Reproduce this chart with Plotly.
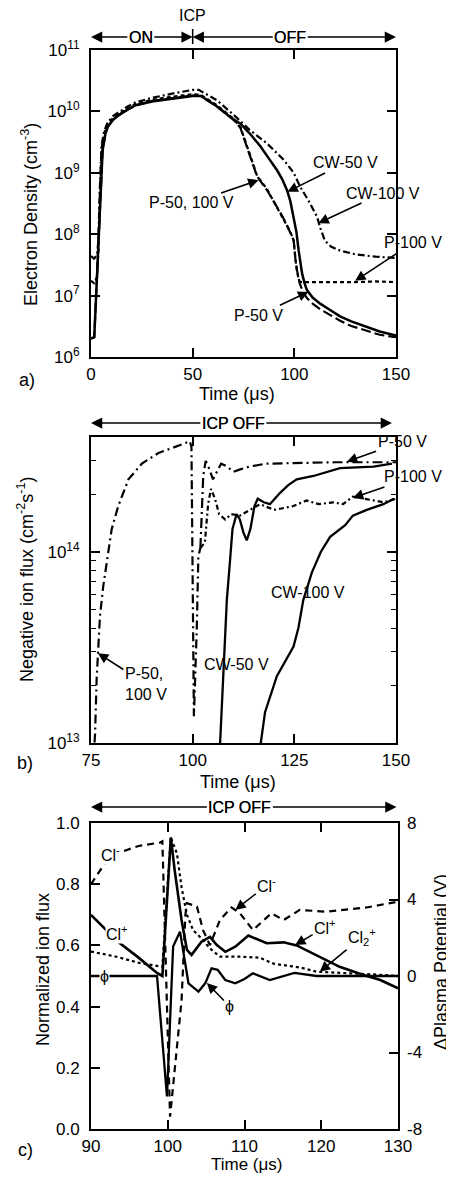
import plotly.graph_objects as go

# ---------------- a) electron density (cm^-3) vs time (us) ----------------
t_a_cw50 = [0, 1.6, 3.2, 4.9, 5.7, 7, 8.2, 11, 13.7, 18, 22, 30, 38, 45, 50, 54, 62, 70, 73.5, 78,
            83.3, 87, 91.5, 94, 96.4, 98, 99.7, 101, 102.1, 103, 103.8, 105, 106.2, 109, 112.7, 117,
            122.5, 128, 135.6, 142, 150]
n_a_cw50 = [2.0e6, 2.1e6, 3.2e7, 5.2e8, 2.3e9, 4.2e9, 5.6e9, 7.4e9, 8.7e9, 1.07e10, 1.26e10, 1.45e10,
            1.58e10, 1.7e10, 1.78e10, 1.78e10, 1.2e10, 7.4e9, 6.3e9, 4.4e9, 2.7e9, 1.8e9, 1.1e9, 7.9e8,
            5.2e8, 3.5e8, 1.95e8, 1.1e8, 5.5e7, 3.3e7, 2.3e7, 1.6e7, 1.23e7, 9.3e6, 7.4e6, 6.0e6, 4.6e6,
            3.8e6, 3.1e6, 2.6e6, 2.24e6]

t_a_cw100 = [0, 1.5, 3, 3.6, 4.4, 5.2, 6.5, 8.2, 11, 14, 18, 22, 30, 40, 50, 53, 62, 70.3, 78, 86.6,
             94.8, 99.7, 102.9, 107, 111.1, 113, 115, 118, 122.5, 130, 140, 150]
n_a_cw100 = [4.4e7, 4.0e7, 4.6e7, 7.9e7, 6.3e8, 2.8e9, 4.8e9, 6.6e9, 8.5e9, 1.0e10, 1.2e10, 1.41e10,
             1.66e10, 1.95e10, 2.24e10, 2.24e10, 1.51e10, 8.7e9, 5.0e9, 3.0e9, 1.62e9, 1.0e9, 5.9e8,
             3.5e8, 1.95e8, 1.2e8, 7.9e7, 6.3e7, 5.4e7, 4.7e7, 4.3e7, 4.1e7]

t_a_p50 = [0, 1.6, 3.2, 4.9, 5.7, 7, 8.2, 11, 13.7, 18, 22, 30, 38, 45, 50, 54, 62, 70, 73.5, 77.5,
           81.7, 86.6, 90, 94, 97, 98.5, 99.7, 100.5, 101.3, 102.6, 104, 106.2, 109, 112.7, 117, 122.5,
           128, 135.6, 142, 150]
n_a_p50 = [2.0e6, 2.1e6, 3.2e7, 5.2e8, 2.3e9, 4.2e9, 5.6e9, 7.4e9, 8.7e9, 1.07e10, 1.26e10, 1.48e10,
           1.62e10, 1.74e10, 1.82e10, 1.78e10, 1.2e10, 7.4e9, 5.4e9, 2.2e9, 8.7e8, 5.2e8, 3.3e8, 2.0e8,
           1.26e8, 1.0e8, 7.9e7, 4.0e7, 2.6e7, 1.6e7, 1.2e7, 9.1e6, 7.4e6, 6.0e6, 4.9e6, 3.9e6, 3.2e6,
           2.7e6, 2.3e6, 2.1e6]

t_a_p100 = [0, 1.5, 3, 3.6, 4.4, 5.2, 6.5, 8.2, 11, 14, 18, 22, 30, 40, 50, 54, 62, 70, 73.5, 77.5,
            81.7, 86.6, 90, 94, 97, 98.5, 99.7, 100.5, 101.3, 102.3, 103, 110, 120, 130, 140, 150]
n_a_p100 = [1.74e7, 1.6e7, 2.0e7, 5.0e7, 5.0e8, 2.5e9, 4.5e9, 6.3e9, 7.9e9, 9.3e9, 1.12e10, 1.32e10,
            1.55e10, 1.74e10, 1.9e10, 1.86e10, 1.26e10, 7.6e9, 5.5e9, 2.3e9, 8.9e8, 5.4e8, 3.4e8, 2.0e8,
            1.26e8, 1.0e8, 7.9e7, 4.0e7, 2.5e7, 1.74e7, 1.66e7, 1.66e7, 1.64e7, 1.66e7, 1.7e7, 1.66e7]

# ---------------- b) negative ion flux (cm^-2 s^-1) ----------------
t_b_off = [75.6, 76.0, 76.4, 76.7, 77.2, 78.0, 78.9, 80.1, 81.7, 84.2, 87.5, 91.6, 95.7, 99.3, 99.7,
           100.1, 100.3, 101.0, 101.4, 101.9]
f_b_off = [8.0e12, 1.12e13, 2.2e13, 2.95e13, 4.6e13, 6.6e13, 8.7e13, 1.32e14, 1.74e14, 2.4e14, 2.9e14,
           3.3e14, 3.55e14, 3.8e14, 3.55e14, 2.5e13, 1.38e13, 3.9e13, 9.5e13, 1.05e14]

t_b_p50 = [101.9, 102.6, 103.2, 104, 105, 106, 107, 108.5, 110, 111.5, 114, 118, 125, 135, 150]
f_b_p50 = [1.05e14, 2.5e14, 3.0e14, 2.75e14, 2.4e14, 2.63e14, 2.9e14, 2.8e14, 2.63e14, 2.7e14, 2.8e14,
           2.9e14, 2.92e14, 2.95e14, 2.95e14]

t_b_p100 = [101.9, 103, 103.8, 104.5, 105.5, 106.5, 108, 109.5, 111.6, 113.2, 116.6, 120, 124.8, 128,
            131, 134.6, 137, 139.4, 142, 144.5, 147, 150]
f_b_p100 = [1.05e14, 1.12e14, 1.78e14, 2.14e14, 1.9e14, 1.58e14, 1.48e14, 1.58e14, 1.55e14, 1.62e14,
            1.78e14, 1.66e14, 1.74e14, 1.86e14, 1.78e14, 1.82e14, 1.78e14, 1.95e14, 1.9e14, 1.86e14,
            1.82e14, 1.9e14]

t_b_cw50 = [106.7, 107.5, 108.4, 109.2, 109.8, 110.8, 111.6, 112.5, 113.3, 114.2, 115.2, 116, 117.5,
            119, 121.5, 123.5, 125.6, 129.7, 136.2, 144.5, 149]
f_b_cw50 = [9.5e12, 2.2e13, 5.6e13, 9.1e13, 1.32e14, 1.58e14, 1.48e14, 1.26e14, 1.15e14, 1.32e14,
            1.74e14, 1.9e14, 1.82e14, 1.78e14, 2.04e14, 2.24e14, 2.4e14, 2.5e14, 2.75e14, 2.8e14, 2.9e14]

t_b_cw100 = [116.6, 117.8, 120.7, 122.5, 124.8, 126, 127.2, 129.3, 131.5, 133.8, 136.2, 137.5, 139.4,
             142.8, 146.9, 149.5]
f_b_cw100 = [9.5e12, 1.45e13, 2.24e13, 2.6e13, 3.2e13, 4.0e13, 5.6e13, 7.8e13, 1.0e14, 1.2e14, 1.32e14,
             1.38e14, 1.55e14, 1.66e14, 1.78e14, 1.9e14]

# ---------------- c) normalized ion flux and plasma potential ----------------
t_c_clm = [90, 91.8, 94, 96.2, 99, 99.3, 100.3, 101.8, 102.3, 102.5, 103.8, 104.6, 105.5, 106.8, 108.3,
           109.4, 111.1, 112.5, 113.5, 115.1, 117.2, 120.7, 125.9, 130]
y_c_clm = [0.80, 0.868, 0.906, 0.925, 0.936, 0.94, 0.04, 0.42, 0.70, 0.738, 0.727, 0.65, 0.601, 0.683,
           0.724, 0.705, 0.65, 0.683, 0.705, 0.683, 0.716, 0.71, 0.724, 0.743]

t_c_clp = [90, 91.4, 93.6, 96.2, 98.6, 99.3, 100.4, 100.9, 101.8, 102.5, 103.1, 104.4, 105.5, 106.4,
           107.5, 108.8, 110.5, 112.9, 115.1, 116.8, 119.8, 122.4, 125.5, 127.7, 130]
y_c_clp = [0.70, 0.665, 0.61, 0.56, 0.51, 0.50, 0.953, 0.846, 0.683, 0.585, 0.569, 0.612, 0.628, 0.601,
           0.579, 0.596, 0.632, 0.607, 0.61, 0.60, 0.563, 0.530, 0.503, 0.487, 0.46]

t_c_cl2p = [90, 93.3, 96.4, 99, 99.3, 100.4, 101.2, 101.8, 102.5, 103.3, 104.5, 105.5, 106.8, 109.4, 112,
            113.8, 117.2, 119.4, 121.6, 123.7, 126.9, 130]
y_c_cl2p = [0.58, 0.563, 0.542, 0.531, 0.53, 0.953, 0.90, 0.79, 0.70, 0.65, 0.62, 0.59, 0.563, 0.563,
            0.56, 0.54, 0.528, 0.514, 0.512, 0.51, 0.505, 0.50]

t_c_phi = [90, 98.6, 99.9, 100.7, 101.6, 102.2, 102.7, 104, 104.9, 105.7, 106.5, 107.5, 108.8, 110,
           111.1, 113.3, 116.5, 119.4, 121, 130]
v_c_phi = [0, 0, -6.3, 1.54, 2.32, 0.83, -0.38, -0.82, -0.37, 0.4, 0.32, -0.21, -0.38, -0.16, 0.14,
           -0.21, 0.16, 0, 0, 0]

FONT = "Liberation Sans, Arial, Helvetica, sans-serif"
# the page body keeps its 8px margin, so the figure is 8px smaller than the window
OFF = 8
W, H = 454 - OFF, 1178 - OFF


def fx(p):
    # window pixel column -> paper fraction
    return (p - OFF) / W


def fy(p):
    # window pixel row -> paper fraction
    return 1 - (p - OFF) / H


fig = go.Figure()


def curve(x, y, xa, ya, dash="solid", w=2.2):
    fig.add_trace(go.Scatter(x=x, y=y, mode="lines", xaxis=xa, yaxis=ya, hoverinfo="skip",
                             line=dict(color="black", width=w, dash=dash), showlegend=False))


# a)
curve(t_a_cw100, n_a_cw100, "x", "y", "7px,3px,2px,3px")
curve(t_a_p100, n_a_p100, "x", "y", "4px,3px")
curve(t_a_p50, n_a_p50, "x", "y", "10px,4px")
curve(t_a_cw50, n_a_cw50, "x", "y", "solid", 2.5)
# b)
curve(t_b_off, f_b_off, "x2", "y2", "9px,4px,2px,4px")
curve(t_b_p50, f_b_p50, "x2", "y2", "10px,4px,2px,4px")
curve(t_b_p100, f_b_p100, "x2", "y2", "5px,3px,2px,3px")
curve(t_b_cw50, f_b_cw50, "x2", "y2", "solid", 2.3)
curve(t_b_cw100, f_b_cw100, "x2", "y2", "solid", 2.3)
# c)
curve(t_c_clm, y_c_clm, "x3", "y3", "7px,5px")
curve(t_c_cl2p, y_c_cl2p, "x3", "y3", "3px,3px")
curve(t_c_clp, y_c_clp, "x3", "y3", "solid", 2.6)
curve(t_c_phi, v_c_phi, "x3", "y4", "solid", 2.3)

ax_common = dict(showline=True, linecolor="black", linewidth=2, ticks="inside", ticklen=9,
                 tickwidth=1.5, tickcolor="black", showgrid=False, zeroline=False, automargin=False,
                 ticklabelstandoff=1, tickfont=dict(size=17, color="black", family=FONT))

fig.update_layout(
    template="none",
    width=W, height=H, margin=dict(l=0, r=0, t=0, b=0, pad=0),
    paper_bgcolor="white", plot_bgcolor="white", showlegend=False,
    font=dict(family=FONT, color="black"),
    xaxis=dict(ax_common, domain=[fx(91), fx(396)], anchor="y", range=[0, 150],
               tickvals=[0, 50, 100, 150], mirror="ticks"),
    yaxis=dict(ax_common, domain=[fy(357), fy(50)], anchor="x", type="log", range=[6, 11],
               tickvals=[1e6, 1e7, 1e8, 1e9, 1e10, 1e11],
               ticktext=["10<sup>6</sup>", "10<sup>7</sup>", "10<sup>8</sup>", "10<sup>9</sup>",
                         "10<sup>10</sup>", "10<sup>11</sup>"], mirror="ticks"),
    xaxis2=dict(ax_common, domain=[fx(91), fx(396)], anchor="y2", range=[75, 150],
                tickvals=[75, 100, 125, 150], mirror="ticks"),
    yaxis2=dict(ax_common, domain=[fy(743), fy(437)], anchor="x2", type="log",
                range=[13, 14.602], tickvals=[1e13, 1e14],
                ticktext=["10<sup>13</sup>", "10<sup>14</sup>"], mirror="ticks",
                minor=dict(ticks="inside", ticklen=5, tickwidth=1.2, tickcolor="black",
                           tickvals=[2e13, 3e13, 4e13, 5e13, 6e13, 7e13, 8e13, 9e13, 2e14, 3e14])),
    xaxis3=dict(ax_common, domain=[fx(91), fx(398)], anchor="y3", range=[90, 130],
                tickvals=[90, 100, 110, 120, 130], mirror="ticks"),
    yaxis3=dict(ax_common, domain=[fy(1129), fy(823)], anchor="x3", range=[0, 1],
                tickvals=[0, 0.2, 0.4, 0.6, 0.8, 1.0],
                ticktext=["0.0", "0.2", "0.4", "0.6", "0.8", "1.0"], mirror=True),
    yaxis4=dict(ax_common, overlaying="y3", anchor="x3", side="right", range=[-8, 8],
                tickvals=[-8, -4, 0, 4, 8], ticktext=["-8", "-4", "0", "4", "8"], showline=False),
)
fig.update_yaxes(ticklabelstandoff=6)
fig.update_layout(yaxis4_ticklabelstandoff=8)


def note(text, x, y, xref, yref, tip=None, size=16, bg=None, align="center", angle=0):
    kw = dict(text=text, xref=xref, yref=yref, font=dict(size=size, color="black", family=FONT),
              align=align, xanchor="center", yanchor="middle", textangle=angle)
    if bg:
        kw["bgcolor"] = bg
        kw["borderpad"] = 0
    if tip is None:
        fig.add_annotation(x=x, y=y, showarrow=False, **kw)
    else:
        fig.add_annotation(x=tip[0], y=tip[1], ax=x, ay=y, axref=xref, ayref=yref, showarrow=True,
                           arrowhead=2, arrowsize=1.3, arrowwidth=1.6, arrowcolor="black",
                           standoff=0, **kw)


def span(text, x0, x1, xc, y, xref):
    # double headed horizontal arrow with a label in the middle
    for tip in (x0, x1):
        fig.add_annotation(x=tip, y=y, xref=xref, yref="paper", ax=xc, ay=0, axref=xref,
                           ayref="pixel", text=text, showarrow=True, arrowhead=2, arrowsize=1.5,
                           arrowwidth=1.5, arrowcolor="black", standoff=0,
                           font=dict(size=16, color="black", family=FONT))


# headers
span("ON", 0, 50, 24.5, fy(37), "x")
span("OFF", 50, 150, 98, fy(37), "x")
fig.add_shape(type="line", xref="x", yref="paper", x0=50, x1=50, y0=fy(44), y1=fy(29),
              line=dict(color="black", width=1.5))
note("ICP", 50, fy(16), "x", "paper")
span("ICP OFF", 75, 149, 110, fy(423), "x2")
span("ICP OFF", 90, 129.8, 109.4, fy(807), "x3")

# a) labels (annotation y in log10 units)
note("CW-50 V", 125, 9.16, "x", "y", tip=(96.6, 8.69))
note("CW-100 V", 143.6, 8.67, "x", "y", tip=(111.8, 8.18))
note("P-50, 100 V", 49.5, 8.51, "x", "y", tip=(82.4, 8.88))
note("P-100 V", 158.3, 7.86, "x", "y", tip=(129.9, 7.24))
note("P-50 V", 82.4, 6.68, "x", "y", tip=(106.9, 7.06))

# b) labels
note("P-50 V", 151.5, 14.576, "x2", "y2", tip=(137.9, 14.473))
note("P-100 V", 154.2, 14.393, "x2", "y2", tip=(139.4, 14.283))
note("CW-100 V", 128.4, 13.79, "x2", "y2")
note("CW-50 V", 110.9, 13.41, "x2", "y2")
note("P-50,<br>100 V", 88.5, 13.31, "x2", "y2", tip=(76.7, 13.47), align="left")

# c) labels
note("Cl<sup>-</sup>", 92.5, 0.90, "x3", "y3", bg="white")
note("Cl<sup>-</sup>", 112.9, 0.797, "x3", "y3", tip=(108.8, 0.716))
note("Cl<sup>+</sup>", 93.4, 0.64, "x3", "y3", bg="white")
note("Cl<sup>+</sup>", 120.5, 0.66, "x3", "y3", tip=(116.6, 0.601))
note("Cl<sub>2</sub><sup>+</sup>", 125.3, 0.627, "x3", "y3", tip=(119.8, 0.514))
note("ϕ", 91.8, 0.497, "x3", "y3", bg="white")
note("ϕ", 108.1, 0.40, "x3", "y3", tip=(105.1, 0.477))

# axis titles
note("Time (μs)", fx(237), fy(394), "paper", "paper", size=18)
note("Time (μs)", fx(238), fy(782), "paper", "paper", size=18)
note("Time (μs)", fx(247), fy(1164), "paper", "paper", size=17)
note("Electron Density (cm<sup>-3</sup>)", fx(29), fy(215), "paper", "paper", size=18, angle=-90)
note("Negative ion flux (cm<sup>-2</sup>s<sup>-1</sup>)", fx(25), fy(580), "paper", "paper",
     size=18, angle=-90)
note("Normalized ion flux", fx(43), fy(970), "paper", "paper", size=18, angle=-90)
note("ΔPlasma Potential (V)", fx(441), fy(962), "paper", "paper", size=18, angle=-90)

# panel letters
note("a)", fx(27), fy(380), "paper", "paper", size=18)
note("b)", fx(25), fy(763), "paper", "paper", size=18)
note("c)", fx(25), fy(1150), "paper", "paper", size=18)

fig.write_html("out.html")
